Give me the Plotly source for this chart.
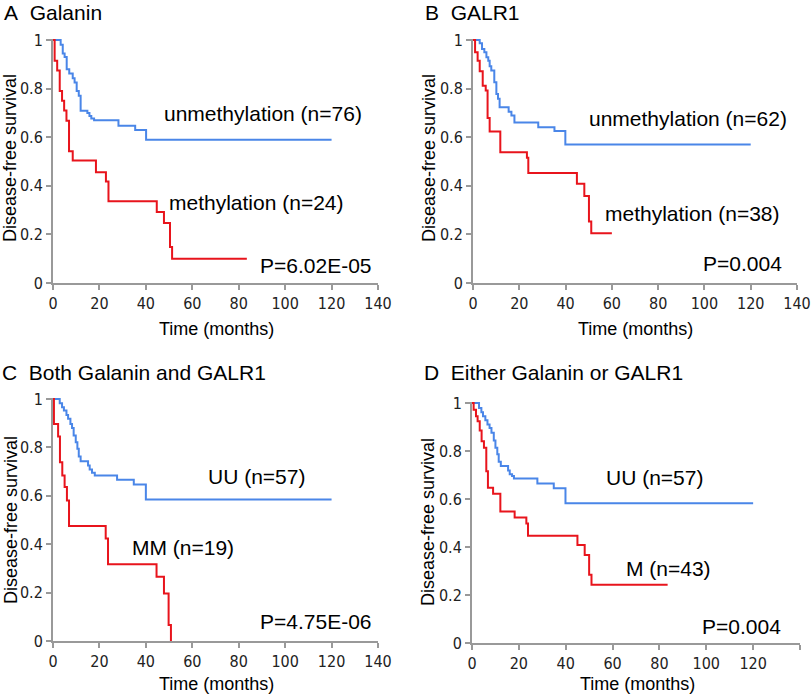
import plotly.graph_objects as go
from plotly.subplots import make_subplots

# Kaplan-Meier step curves (months, survival)
a_unmeth_t = [0, 3.3, 4.2, 5.0, 5.9, 7.0, 8.5, 9.3, 10.2, 11.1, 11.9, 14.8, 15.7, 16.5, 17.7, 28.2, 35.4, 40.1, 120]
a_unmeth_s = [1, 0.98, 0.944, 0.93, 0.88, 0.862, 0.843, 0.825, 0.79, 0.77, 0.709, 0.70, 0.687, 0.677, 0.670, 0.647, 0.63, 0.589, 0.589]
a_meth_t = [0, 0.7, 1.8, 2.9, 3.9, 4.8, 5.8, 6.9, 8.5, 18.5, 22.8, 23.9, 44.7, 47.8, 50.4, 51.3, 83.5]
a_meth_s = [1, 0.915, 0.874, 0.79, 0.75, 0.71, 0.668, 0.542, 0.504, 0.456, 0.418, 0.336, 0.292, 0.247, 0.148, 0.10, 0.10]

b_unmeth_t = [0, 2.9, 3.9, 4.9, 5.8, 6.6, 7.2, 7.9, 9.2, 10.1, 10.8, 11.5, 15.4, 16.6, 17.9, 28.2, 35.2, 39.9, 120]
b_unmeth_s = [1, 0.986, 0.963, 0.949, 0.929, 0.915, 0.892, 0.874, 0.826, 0.778, 0.758, 0.723, 0.705, 0.689, 0.66, 0.641, 0.625, 0.570, 0.570]
b_meth_t = [0, 0.9, 2.0, 2.9, 4.2, 5.5, 6.3, 7.2, 11.8, 23.3, 23.9, 44.9, 48.1, 50.1, 51.1, 60]
b_meth_s = [1, 0.949, 0.915, 0.871, 0.812, 0.792, 0.679, 0.623, 0.538, 0.515, 0.453, 0.408, 0.358, 0.253, 0.205, 0.205]

c_uu_t = [0, 2.9, 3.9, 4.7, 5.8, 6.5, 7.5, 8.2, 8.9, 9.8, 10.5, 11.1, 11.9, 15.1, 15.8, 16.8, 18.0, 27.6, 34.8, 40.0, 120]
c_uu_s = [1, 0.982, 0.966, 0.952, 0.934, 0.918, 0.897, 0.880, 0.849, 0.821, 0.794, 0.762, 0.743, 0.725, 0.709, 0.695, 0.684, 0.666, 0.647, 0.585, 0.585]
c_mm_t = [0, 0.4, 2.2, 3.0, 4.0, 5.0, 6.0, 6.9, 22.7, 23.7, 44.6, 47.8, 49.8, 50.8]
c_mm_s = [1, 0.897, 0.845, 0.739, 0.684, 0.636, 0.581, 0.475, 0.423, 0.317, 0.265, 0.196, 0.066, 0]

d_uu_t = [0, 3.0, 4.0, 4.7, 5.7, 6.6, 7.5, 8.3, 9.3, 10.0, 10.8, 11.4, 12.3, 15.4, 16.1, 17.1, 17.9, 27.9, 34.9, 39.9, 120]
d_uu_s = [1, 0.979, 0.961, 0.945, 0.928, 0.910, 0.896, 0.876, 0.844, 0.813, 0.786, 0.755, 0.737, 0.719, 0.703, 0.696, 0.685, 0.664, 0.645, 0.582, 0.582]
d_m_t = [0, 0.7, 1.7, 2.4, 3.3, 4.1, 5.1, 6.1, 6.8, 9.0, 12.1, 18.2, 23.2, 23.9, 45.0, 48.1, 50.0, 51.0, 83.5]
d_m_s = [1, 0.972, 0.945, 0.924, 0.885, 0.841, 0.813, 0.716, 0.647, 0.622, 0.548, 0.523, 0.498, 0.447, 0.408, 0.367, 0.284, 0.243, 0.243]

panel_titles = ["A\u00a0\u00a0Galanin", "B\u00a0\u00a0GALR1",
                "C\u00a0\u00a0Both Galanin and GALR1", "D\u00a0\u00a0Either Galanin or GALR1"]
y_ticks = [0, 0.2, 0.4, 0.6, 0.8, 1]
y_ticktext = ["0", "0.2", "0.4", "0.6", "0.8", "1"]
x_ticks = [0, 20, 40, 60, 80, 100, 120, 140]

BLUE = "#4a86e8"
RED = "#e8141c"
AXIS = "#999999"
TXT = "Liberation Sans, Arial, sans-serif"
TICK = "DejaVu Sans Condensed, Liberation Sans Narrow, sans-serif"

W, H = 812, 695

fig = make_subplots(rows=2, cols=2)

curves = [
    (1, 1, a_unmeth_t, a_unmeth_s, a_meth_t, a_meth_s),
    (1, 2, b_unmeth_t, b_unmeth_s, b_meth_t, b_meth_s),
    (2, 1, c_uu_t, c_uu_s, c_mm_t, c_mm_s),
    (2, 2, d_uu_t, d_uu_s, d_m_t, d_m_s),
]
for r, c, bt, bs, rt, rs in curves:
    fig.add_trace(go.Scatter(x=bt, y=bs, mode="lines", line=dict(color=BLUE, width=2, shape="hv"),
                             showlegend=False), row=r, col=c)
    fig.add_trace(go.Scatter(x=rt, y=rs, mode="lines", line=dict(color=RED, width=2, shape="hv"),
                             showlegend=False), row=r, col=c)

# plot areas in pixels: (left, right, top, bottom)
boxes = [(53, 378, 39, 283), (473, 797, 39, 283), (53, 378, 398, 641), (472, 800, 402, 643)]
for i, (l, rr, t, b) in enumerate(boxes):
    n = "" if i == 0 else str(i + 1)
    fig.layout["xaxis" + n].update(domain=[l / W, rr / W])
    fig.layout["yaxis" + n].update(domain=[1 - b / H, 1 - t / H])

fig.update_xaxes(range=[0, 140], tickvals=x_ticks, showgrid=False, zeroline=False,
                 showline=True, linecolor=AXIS, linewidth=2, ticks="outside",
                 ticklen=5, tickwidth=2, tickcolor=AXIS, automargin=False,
                 tickfont=dict(family=TICK, size=16, color="#222222"))
fig.update_yaxes(range=[0, 1.004], tickvals=y_ticks, ticktext=y_ticktext, showgrid=False,
                 zeroline=False, showline=True, linecolor=AXIS, linewidth=2, ticks="outside",
                 ticklen=5, tickwidth=2, tickcolor=AXIS, automargin=False,
                 tickfont=dict(family=TICK, size=16, color="#222222"))

ann = []
# panel titles
title_pos = [(2, 13), (423, 13), (0, 372), (422, 372)]
for txt, (x, y) in zip(panel_titles, title_pos):
    ann.append(dict(text=txt, x=x / W, y=1 - y / H, xref="paper", yref="paper",
                    xanchor="left", yanchor="middle", showarrow=False,
                    font=dict(family=TXT, size=21, color="black")))
# axis titles
ylab_pos = [(10, 158), (429, 158), (11, 520), (428, 522)]
for x, y in ylab_pos:
    ann.append(dict(text="Disease-free survival", x=x / W, y=1 - y / H, xref="paper", yref="paper",
                    textangle=-90, showarrow=False, xanchor="center", yanchor="middle",
                    font=dict(family=TXT, size=18, color="black")))
xlab_pos = [(216, 329), (635, 329), (216, 684), (637, 684)]
for x, y in xlab_pos:
    ann.append(dict(text="Time (months)", x=x / W, y=1 - y / H, xref="paper", yref="paper",
                    showarrow=False, xanchor="center", yanchor="middle",
                    font=dict(family=TXT, size=18, color="black")))

# in-plot labels (data coordinates)
labels = [
    ("x", "y", "unmethylation (n=76)", 90.3, 0.697),
    ("x", "y", "methylation (n=24)", 87.6, 0.333),
    ("x", "y", "P=6.02E-05", 113.4, 0.074),
    ("x2", "y2", "unmethylation (n=62)", 92.9, 0.676),
    ("x2", "y2", "methylation (n=38)", 94.9, 0.286),
    ("x2", "y2", "P=0.004", 116.3, 0.081),
    ("x3", "y3", "UU (n=57)", 87.6, 0.679),
    ("x3", "y3", "MM (n=19)", 55.9, 0.388),
    ("x3", "y3", "P=4.75E-06", 113.4, 0.082),
    ("x4", "y4", "UU (n=57)", 77.7, 0.690),
    ("x4", "y4", "M (n=43)", 84.0, 0.312),
    ("x4", "y4", "P=0.004", 115.2, 0.068),
]
for xr, yr, txt, x, y in labels:
    ann.append(dict(text=txt, x=x, y=y, xref=xr, yref=yr, showarrow=False,
                    xanchor="center", yanchor="middle",
                    font=dict(family=TXT, size=21, color="black")))

fig.update_layout(width=W, height=H, margin=dict(l=0, r=0, t=0, b=0),
                  paper_bgcolor="white", plot_bgcolor="white", annotations=ann,
                  showlegend=False)

# drop the browser's default 8px body margin so the figure fills the window
fig.write_html("out.html", config={"displayModeBar": False},
               post_script="document.body.style.margin='0';")
